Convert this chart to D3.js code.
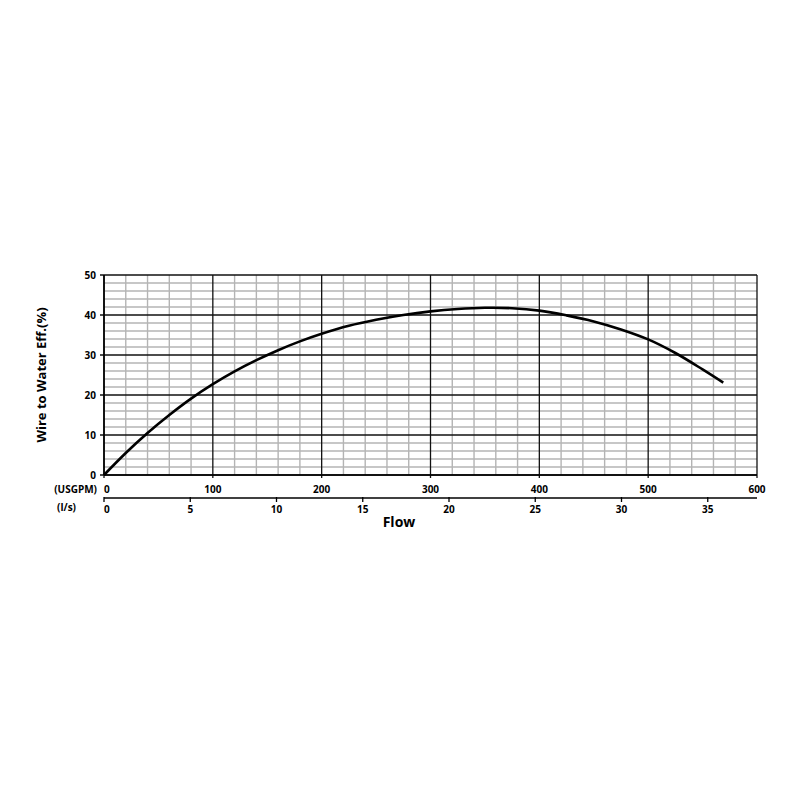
<!DOCTYPE html>
<html>
<head>
<meta charset="utf-8">
<script src="https://cdn.jsdelivr.net/npm/d3@7"></script>
<style>
  body { margin: 0; background: #fff; }
  text { font-family: "Open Sans", sans-serif; font-weight: bold; fill: #000; }
</style>
</head>
<body>
<div id="chart"></div>
<script>
// kurvan (USGPM, %)
const flowGpm = [0, 20, 40, 60, 80, 100, 120, 140, 160, 180, 200, 225, 250, 275, 300, 325, 350, 375, 400, 425, 450, 475, 500, 525, 550, 569];
const eff = [0, 5.5, 10.5, 15.0, 19.1, 22.7, 25.9, 28.7, 31.2, 33.4, 35.3, 37.3, 38.8, 40.0, 40.9, 41.5, 41.8, 41.7, 41.1, 39.9, 38.4, 36.4, 33.9, 30.5, 26.4, 23.1];

const gpmTicks = [0, 100, 200, 300, 400, 500, 600];
const lpsTicks = [0, 5, 10, 15, 20, 25, 30, 35];
const effTicks = [0, 10, 20, 30, 40, 50];
const GPM_PER_LPS = 15.850;

const render = () => {
    const width = 800, height = 800;
    const x0 = 104, x1 = 757, y0 = 475, y1 = 275;

    const svg = d3.select("#chart").append("svg")
        .attr("width", width)
        .attr("height", height);

    const x = d3.scaleLinear().domain([0, 600]).range([x0, x1]);
    const xl = d3.scaleLinear().domain([0, 600 / GPM_PER_LPS]).range([x0, x1]);
    const y = d3.scaleLinear().domain([0, 50]).range([y0, y1]);

    // små rutor
    const minorX = d3.range(0, 601, 20).filter(d => d % 100 != 0);
    const minorY = d3.range(0, 51, 2).filter(d => d % 10 != 0);

    const grid = svg.append("g");
    grid.selectAll(".mx").data(minorX).join("line")
        .attr("x1", d => x(d)).attr("x2", d => x(d))
        .attr("y1", y0).attr("y2", y1)
        .attr("stroke", "#b4b4b4").attr("stroke-width", 1.4);
    grid.selectAll(".my").data(minorY).join("line")
        .attr("x1", x0).attr("x2", x1)
        .attr("y1", d => y(d)).attr("y2", d => y(d))
        .attr("stroke", "#b4b4b4").attr("stroke-width", 1.6);

    // stora linjer
    grid.selectAll(".Mx").data(gpmTicks).join("line")
        .attr("x1", d => x(d)).attr("x2", d => x(d))
        .attr("y1", y0 + 3).attr("y2", y1)
        .attr("stroke", "#111").attr("stroke-width", 1.3);
    grid.selectAll(".My").data(effTicks).join("line")
        .attr("x1", x0 - 4).attr("x2", x1)
        .attr("y1", d => y(d)).attr("y2", d => y(d))
        .attr("stroke", "#111").attr("stroke-width", 1.3);

    // axlar
    svg.append("line")
        .attr("x1", x0).attr("x2", x0).attr("y1", y0).attr("y2", y1)
        .attr("stroke", "#000").attr("stroke-width", 1.6);
    svg.append("line")
        .attr("x1", x0).attr("x2", x1).attr("y1", y0).attr("y2", y0)
        .attr("stroke", "#000").attr("stroke-width", 1.6);

    svg.append("g").selectAll("text").data(effTicks).join("text")
        .attr("x", x0 - 8).attr("y", d => y(d) + 3.5)
        .attr("text-anchor", "end")
        .attr("font-size", 10)
        .text(d => d);

    svg.append("text")
        .attr("transform", `translate(46,${(y0 + y1) / 2}) rotate(-90)`)
        .attr("text-anchor", "middle")
        .attr("font-size", 13)
        .text("Wire to Water Eff.(%)");

    // USGPM-etiketter
    svg.append("g").selectAll("text").data(gpmTicks).join("text")
        .attr("x", d => x(d)).attr("y", 493)
        .attr("text-anchor", d => d == 0 ? "start" : "middle")
        .attr("font-size", 10)
        .text(d => d);
    svg.append("text")
        .attr("x", 97).attr("y", 493)
        .attr("text-anchor", "end").attr("font-size", 10)
        .text("(USGPM)");

    // l/s-axel
    const ly = 498;
    svg.append("line")
        .attr("x1", x0).attr("x2", x1).attr("y1", ly).attr("y2", ly)
        .attr("stroke", "#000").attr("stroke-width", 1.4);
    svg.append("g").selectAll("line").data(lpsTicks).join("line")
        .attr("x1", d => xl(d)).attr("x2", d => xl(d))
        .attr("y1", ly - 1).attr("y2", ly + 4)
        .attr("stroke", "#000").attr("stroke-width", 1.3);
    svg.append("g").selectAll("text").data(lpsTicks).join("text")
        .attr("x", d => xl(d)).attr("y", 513)
        .attr("text-anchor", d => d == 0 ? "start" : "middle")
        .attr("font-size", 10)
        .text(d => d);
    svg.append("text")
        .attr("x", 76).attr("y", 511)
        .attr("text-anchor", "end").attr("font-size", 10)
        .text("(l/s)");

    svg.append("text")
        .attr("x", 399).attr("y", 527)
        .attr("text-anchor", "middle")
        .attr("font-size", 14)
        .text("Flow");

    // kurvan
    const pts = flowGpm.map((f, i) => [f, eff[i]]);
    svg.append("path")
        .datum(pts)
        .attr("fill", "none")
        .attr("stroke", "#000")
        .attr("stroke-width", 2.6)
        .attr("d", d3.line().x(d => x(d[0])).y(d => y(d[1])).curve(d3.curveCatmullRom.alpha(0.5)));
}

render();
</script>
</body>
</html>
